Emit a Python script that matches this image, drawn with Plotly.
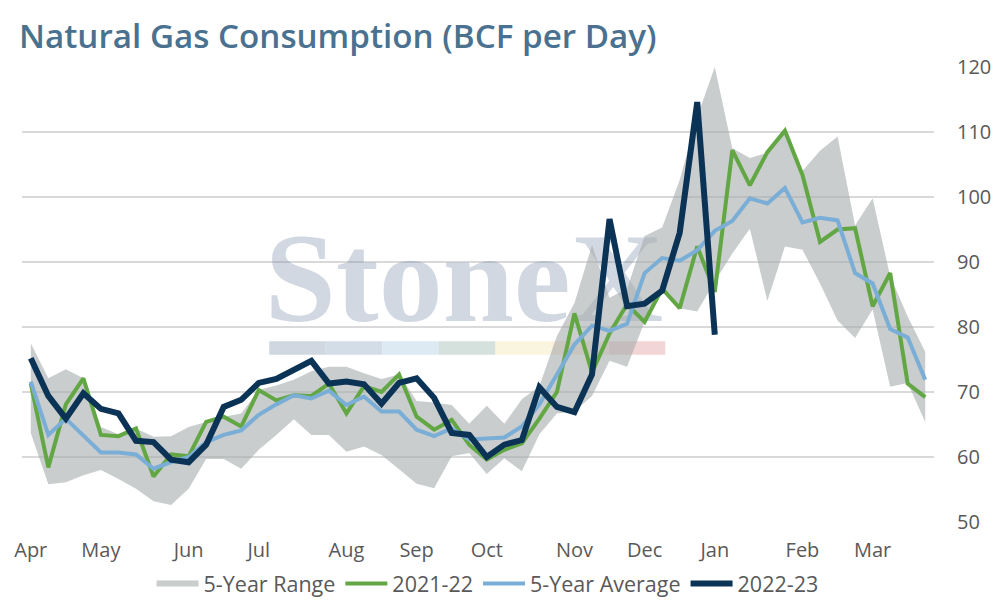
import plotly.graph_objects as go

TEXT_FONT = "Open Sans"

weeks = list(range(52))
month_ticks = [0, 4, 9, 13, 18, 22, 26, 31, 35, 39, 44, 48]
month_labels = ["Apr", "May", "Jun", "Jul", "Aug", "Sep", "Oct", "Nov", "Dec", "Jan", "Feb", "Mar"]

range_upper = [77.5, 72.1, 73.5, 72.1, 64.6, 63.5, 64.4, 63.1, 63.2, 64.6, 65.4, 66.2, 66.7,
               70.3, 71.0, 71.9, 73.2, 73.9, 73.9, 72.9, 72.0, 72.7, 68.6, 68.4, 68.0, 65.1,
               67.9, 65.1, 68.9, 70.9, 78.6, 83.7, 92.6, 84.5, 85.9, 94.0, 95.3, 102.6, 112.3,
               120.0, 107.5, 106.0, 106.8, 110.2, 104.0, 107.1, 109.3, 95.6, 99.8, 87.8, 81.6, 76.2]
range_lower = [63.7, 55.8, 56.1, 57.2, 58.0, 56.6, 55.1, 53.2, 52.6, 55.1, 59.7, 59.7, 58.2,
               61.1, 63.4, 65.8, 63.4, 63.4, 60.8, 61.6, 60.3, 58.1, 55.9, 55.2, 60.1, 60.6,
               57.4, 59.8, 57.8, 63.5, 66.7, 67.0, 69.4, 74.8, 73.9, 80.8, 85.9, 82.9, 82.4,
               87.0, 91.3, 95.1, 84.0, 92.4, 91.9, 86.7, 81.0, 78.3, 82.7, 70.8, 71.4, 65.4]
last_year = [71.3, 58.4, 68.1, 72.1, 63.4, 63.2, 64.4, 57.0, 60.4, 60.1, 65.4, 66.2, 64.7,
             70.3, 68.7, 69.5, 69.4, 71.3, 66.7, 70.9, 70.0, 72.7, 66.2, 64.2, 65.7, 61.9,
             59.6, 61.1, 62.1, 65.9, 70.0, 82.1, 73.0, 79.0, 83.5, 80.8, 85.9, 82.9, 92.4,
             85.4, 107.2, 101.8, 106.9, 110.2, 103.4, 93.1, 95.0, 95.2, 83.2, 88.3, 71.3, 69.2]
average = [71.6, 63.4, 65.9, 63.2, 60.7, 60.7, 60.4, 58.2, 59.2, 60.0, 62.3, 63.4, 64.1,
           66.5, 68.1, 69.5, 69.0, 70.2, 68.0, 69.3, 67.0, 67.0, 64.2, 63.2, 64.4, 62.7,
           62.8, 63.0, 64.7, 68.1, 72.7, 77.3, 80.2, 79.4, 80.5, 88.3, 90.6, 90.2, 91.8,
           94.8, 96.3, 99.8, 99.0, 101.4, 96.1, 96.8, 96.4, 88.3, 86.7, 79.7, 78.4, 71.9]
this_year = [75.2, 69.4, 65.9, 69.8, 67.4, 66.7, 62.5, 62.3, 59.6, 59.2, 61.9, 67.7, 68.8,
             71.4, 72.0, 73.5, 74.8, 71.3, 71.6, 71.2, 68.2, 71.4, 72.1, 69.1, 63.7, 63.4,
             60.0, 61.9, 62.6, 70.7, 67.7, 66.9, 72.7, 96.6, 83.2, 83.6, 85.6, 94.5, 114.6, 78.8]
this_year_weeks = weeks[:len(this_year)]

band_colors = ["#d0d7e1", "#d3dde8", "#deeaf3", "#d4e1dc", "#faf5de", "#fcecdc", "#f2d5d7"]

fig = go.Figure()

# logo watermark, first so it stays under the data
fig.add_trace(go.Scatter(x=[24.7], y=[85.8], mode="text", text=["<b>StoneX</b>"], showlegend=False,
                         hoverinfo="skip",
                         textfont=dict(family="Liberation Serif", size=128, color="rgba(115,138,166,0.33)")))

fig.add_trace(go.Scatter(x=weeks + weeks[::-1], y=range_upper + range_lower[::-1], name="5-Year Range",
                         mode="none", fill="toself", fillcolor="rgba(165,171,171,0.6)"))
fig.add_trace(go.Scatter(x=weeks, y=last_year, name="2021-22", mode="lines",
                         line=dict(color="#62a744", width=4)))
fig.add_trace(go.Scatter(x=weeks, y=average, name="5-Year Average", mode="lines",
                         line=dict(color="#7aaed6", width=4)))
fig.add_trace(go.Scatter(x=this_year_weeks, y=this_year, name="2022-23", mode="lines",
                         line=dict(color="#0b3356", width=6)))

# coloured strip under the logo
for i, color in enumerate(band_colors):
    fig.add_shape(type="rect", xref="paper", yref="y", layer="below", line_width=0, fillcolor=color,
                  x0=(269 + 56.6 * i - 21.7) / 912.3, x1=(269 + 56.6 * (i + 1) - 21.7) / 912.3, y0=75.75, y1=77.8)

fig.update_layout(
    width=994,
    height=606,
    paper_bgcolor="white",
    plot_bgcolor="white",
    margin=dict(l=21.7, r=60, t=66.7, b=84.3, autoexpand=False),
    title=dict(text="Natural Gas Consumption (BCF per Day)", x=19 / 994, xanchor="left",
               y=1 - 36 / 606, yanchor="middle",
               font=dict(family=TEXT_FONT, size=33.2, weight=600, color="#4a7190")),
    legend=dict(orientation="h", x=0.5105, xanchor="center", y=-0.135, yanchor="middle",
                font=dict(family=TEXT_FONT, size=21.5, color="#595959"),
                itemwidth=42, tracegroupgap=0, bgcolor="rgba(0,0,0,0)"),
    showlegend=True,
)
fig.update_xaxes(range=[-0.5, 51.5], tickmode="array", tickvals=month_ticks, ticktext=month_labels,
                 showgrid=False, zeroline=False, showline=False, ticks="", ticklabelstandoff=14,
                 tickfont=dict(family=TEXT_FONT, size=20, color="#595959"))
fig.update_yaxes(range=[50, 120], dtick=10, side="right", showgrid=True, gridcolor="#d9d9d9", gridwidth=1.5,
                 zeroline=False, showline=False, ticks="", ticklabelstandoff=22,
                 tickfont=dict(family=TEXT_FONT, size=20, color="#595959"))

# page margin would push the whole chart 8px off
fig.write_html("out.html", config={"displayModeBar": False}, post_script="document.body.style.margin='0';")
